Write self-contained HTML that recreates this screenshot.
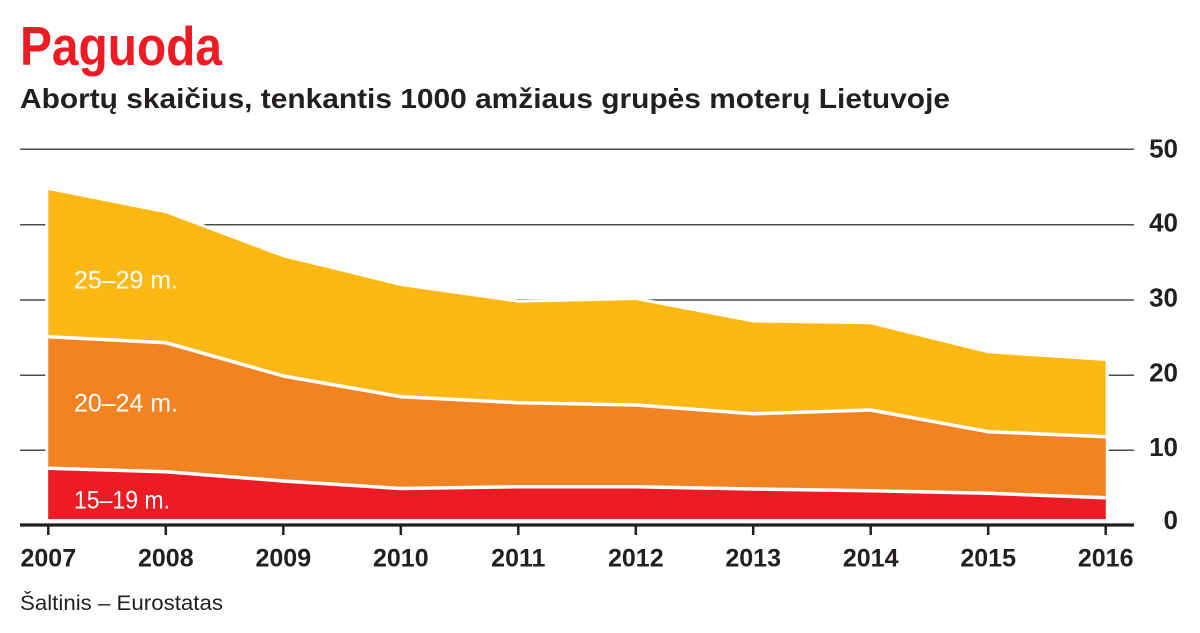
<!DOCTYPE html>
<html>
<head>
<meta charset="utf-8">
<style>
html,body{margin:0;padding:0;background:#fff;}
svg{display:block;}
text{font-family:"Liberation Sans", sans-serif;}
</style>
</head>
<body>
<svg width="1200" height="633" viewBox="0 0 1200 633" xmlns="http://www.w3.org/2000/svg">
  <rect x="0" y="0" width="1200" height="633" fill="#fff"/>
  <!-- Title -->
  <text x="20" y="65" font-size="55" font-weight="bold" fill="#ED1C24" textLength="202" lengthAdjust="spacingAndGlyphs">Paguoda</text>
  <text x="20" y="108" font-size="28" font-weight="bold" fill="#231F20" textLength="930" lengthAdjust="spacingAndGlyphs">Abortų skaičius, tenkantis 1000 amžiaus grupės moterų Lietuvoje</text>

  <!-- gridlines -->
  <g stroke="#4d4d4d" stroke-width="1.5">
    <line x1="20" y1="149.3" x2="1134" y2="149.3"/>
    <line x1="20" y1="224.7" x2="1134" y2="224.7"/>
    <line x1="20" y1="300" x2="1134" y2="300"/>
    <line x1="20" y1="375.3" x2="1134" y2="375.3"/>
    <line x1="20" y1="450.3" x2="1134" y2="450.3"/>
  </g>

  <!-- white halo -->
  <polygon fill="#fff" stroke="#fff" stroke-width="6" stroke-linejoin="miter"
    points="48.3,190 165.8,213.3 283.3,257.3 400.8,286 518.3,302.7 635.8,300 753.2,322.5 870.7,324.3 988.2,353.3 1105.7,361 1105.7,519 48.3,519"/>

  <!-- yellow 25-29 -->
  <polygon fill="#FDB813"
    points="48.3,190 165.8,213.3 283.3,257.3 400.8,286 518.3,302.7 635.8,300 753.2,322.5 870.7,324.3 988.2,353.3 1105.7,361 1105.7,519 48.3,519"/>
  <!-- orange 20-24 -->
  <polygon fill="#F28322"
    points="48.3,336.7 165.8,342.7 283.3,376 400.8,396.7 518.3,402.7 635.8,405 753.2,413.8 870.7,410 988.2,431.7 1105.7,436.7 1105.7,519 48.3,519"/>
  <!-- red 15-19 -->
  <polygon fill="#ED1C24"
    points="48.3,468.3 165.8,471.7 283.3,481 400.8,488.5 518.3,486.7 635.8,486.7 753.2,489 870.7,490.7 988.2,493.3 1105.7,497.7 1105.7,519 48.3,519"/>

  <!-- separators -->
  <g fill="none" stroke="#fff" stroke-width="3.5" stroke-linejoin="round">
    <polyline points="48.3,336.7 165.8,342.7 283.3,376 400.8,396.7 518.3,402.7 635.8,405 753.2,413.8 870.7,410 988.2,431.7 1105.7,436.7"/>
    <polyline points="48.3,468.3 165.8,471.7 283.3,481 400.8,488.5 518.3,486.7 635.8,486.7 753.2,489 870.7,490.7 988.2,493.3 1105.7,497.7"/>
  </g>

  <!-- series labels -->
  <g fill="#fff" font-size="25">
    <text x="74" y="288.3" textLength="104" lengthAdjust="spacingAndGlyphs">25–29 m.</text>
    <text x="74" y="411.7" textLength="104" lengthAdjust="spacingAndGlyphs">20–24 m.</text>
    <text x="74" y="508.3" textLength="96" lengthAdjust="spacingAndGlyphs">15–19 m.</text>
  </g>

  <!-- x axis -->
  <line x1="20" y1="525" x2="1134" y2="525" stroke="#231F20" stroke-width="3.3"/>
  <g stroke="#231F20" stroke-width="2.5">
    <line x1="48.3" y1="525" x2="48.3" y2="535"/>
    <line x1="165.8" y1="525" x2="165.8" y2="535"/>
    <line x1="283.3" y1="525" x2="283.3" y2="535"/>
    <line x1="400.8" y1="525" x2="400.8" y2="535"/>
    <line x1="518.3" y1="525" x2="518.3" y2="535"/>
    <line x1="635.8" y1="525" x2="635.8" y2="535"/>
    <line x1="753.2" y1="525" x2="753.2" y2="535"/>
    <line x1="870.7" y1="525" x2="870.7" y2="535"/>
    <line x1="988.2" y1="525" x2="988.2" y2="535"/>
    <line x1="1105.7" y1="525" x2="1105.7" y2="535"/>
  </g>
  <g fill="#231F20" font-size="25" font-weight="bold" text-anchor="middle">
    <text x="48.3" y="566.7">2007</text>
    <text x="165.8" y="566.7">2008</text>
    <text x="283.3" y="566.7">2009</text>
    <text x="400.8" y="566.7">2010</text>
    <text x="518.3" y="566.7">2011</text>
    <text x="635.8" y="566.7">2012</text>
    <text x="753.2" y="566.7">2013</text>
    <text x="870.7" y="566.7">2014</text>
    <text x="988.2" y="566.7">2015</text>
    <text x="1105.7" y="566.7">2016</text>
  </g>

  <!-- y axis labels -->
  <g fill="#231F20" font-size="26" font-weight="bold" text-anchor="end">
    <text x="1178" y="157.3">50</text>
    <text x="1178" y="231.7">40</text>
    <text x="1178" y="306.7">30</text>
    <text x="1178" y="381.7">20</text>
    <text x="1178" y="456">10</text>
    <text x="1178" y="529">0</text>
  </g>

  <!-- source -->
  <text x="20" y="610" font-size="21" fill="#231F20" textLength="203" lengthAdjust="spacingAndGlyphs">Šaltinis – Eurostatas</text>
</svg>
</body>
</html>
